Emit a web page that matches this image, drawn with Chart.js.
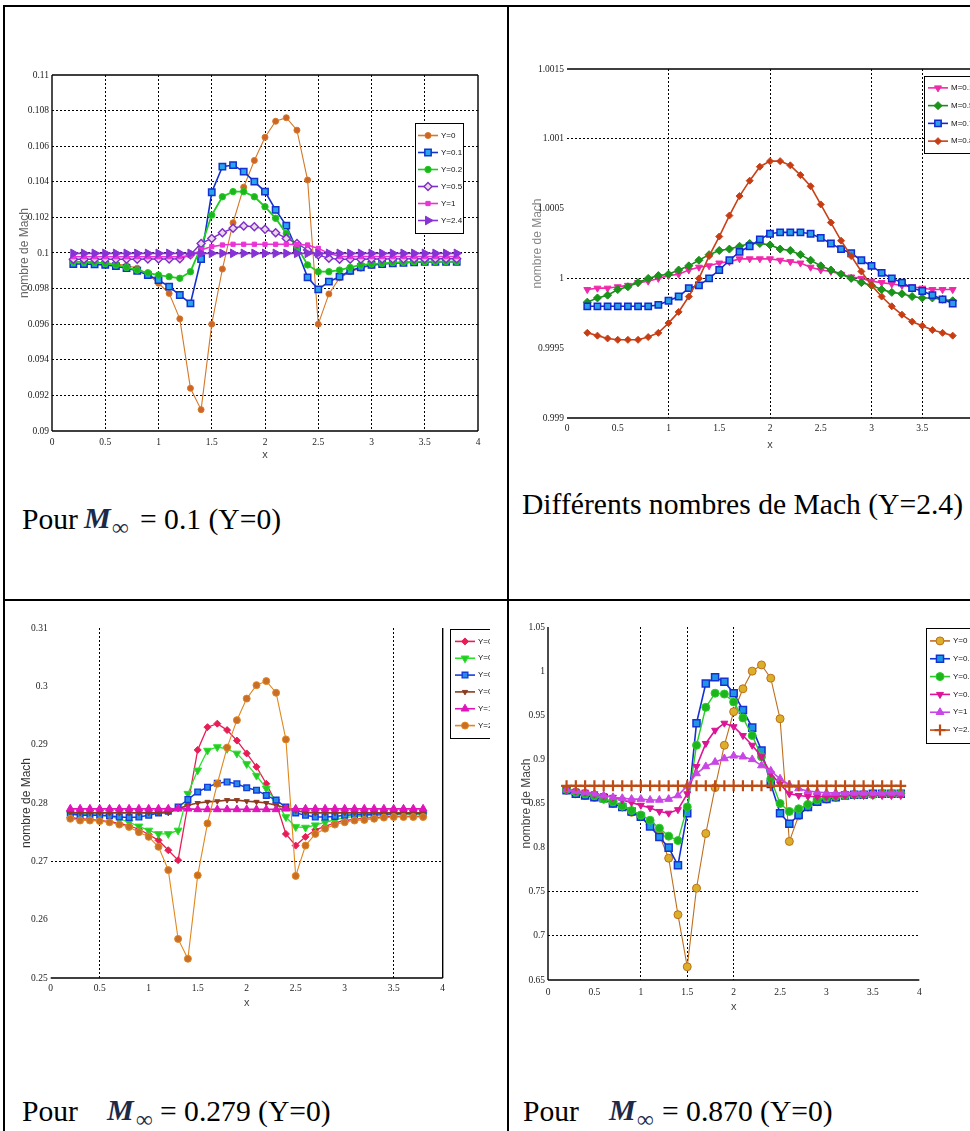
<!DOCTYPE html>
<html><head><meta charset="utf-8">
<script src="https://cdn.jsdelivr.net/npm/chart.js@4/dist/chart.umd.min.js"></script>
<style>
html,body{margin:0;padding:0;background:#fff;}
body{width:970px;height:1131px;overflow:hidden;position:relative;font-family:'Liberation Serif','Times New Roman',serif;}
.ln{position:absolute;background:#000;}
canvas{position:absolute;}
.t{position:absolute;font-size:29.6px;line-height:29px;white-space:nowrap;color:#000;}
.M{position:absolute;font-size:30px;line-height:30px;font-style:italic;font-weight:bold;color:#1c2a4a;}
.inf{position:absolute;font-size:23px;line-height:23px;font-weight:bold;color:#1c2a4a;}
</style></head>
<body>
<div class="ln" style="left:3px;top:5px;width:970px;height:2px"></div>
<div class="ln" style="left:3px;top:5px;width:2px;height:1130px"></div>
<div class="ln" style="left:507px;top:5px;width:2px;height:1130px"></div>
<div class="ln" style="left:3px;top:599px;width:970px;height:2px"></div>

<canvas id="c1" width="482" height="410" style="left:8px;top:60px"></canvas>
<canvas id="c2" width="475" height="420" style="left:510px;top:40px"></canvas>
<canvas id="c3" width="480" height="410" style="left:10px;top:610px"></canvas>
<canvas id="c4" width="460" height="410" style="left:515px;top:610px"></canvas>

<div class="t" style="left:22px;top:505px">Pour</div>
<div class="M" style="left:84px;top:503px">M</div>
<div class="inf" style="left:112px;top:516px">∞</div>
<div class="t" style="left:140px;top:505px">= 0.1 (Y=0)</div>

<div class="t" style="left:522px;top:490px">Différents nombres de Mach (Y=2.4)</div>

<div class="t" style="left:22px;top:1097px">Pour</div>
<div class="M" style="left:107px;top:1095px">M</div>
<div class="inf" style="left:136px;top:1108px">∞</div>
<div class="t" style="left:160px;top:1097px">= 0.279 (Y=0)</div>

<div class="t" style="left:523px;top:1097px">Pour</div>
<div class="M" style="left:609px;top:1095px">M</div>
<div class="inf" style="left:637px;top:1108px">∞</div>
<div class="t" style="left:662px;top:1097px">= 0.870 (Y=0)</div>

<script>
// ---------- shared x grid ----------
const X = [0.2,0.3,0.4,0.5,0.6,0.7,0.8,0.9,1.0,1.1,1.2,1.3,1.4,1.5,1.6,1.7,1.8,1.9,2.0,2.1,2.2,2.3,2.4,2.5,2.6,2.7,2.8,2.9,3.0,3.1,3.2,3.3,3.4,3.5,3.6,3.7,3.8];
const X_TICKS = [0,0.5,1,1.5,2,2.5,3,3.5,4];
const X_TICK_LABELS = ['0','0.5','1','1.5','2','2.5','3','3.5','4'];

// ---------- chart 1 : M = 0.1 (Y=0) ----------
const C1_LABELS = ['Y=0','Y=0.1','Y=0.2','Y=0.5','Y=1','Y=2.4'];
const C1_Y0  = [0.09950,0.09950,0.09948,0.09945,0.09940,0.09930,0.09915,0.09880,0.09830,0.09773,0.09630,0.09240,0.09120,0.09600,0.09910,0.10170,0.10370,0.10520,0.10650,0.10740,0.10760,0.10690,0.10410,0.09600,0.09770,0.09860,0.09895,0.09915,0.09930,0.09938,0.09942,0.09945,0.09948,0.09950,0.09950,0.09951,0.09951];
const C1_Y01 = [0.09938,0.09938,0.09936,0.09933,0.09926,0.09915,0.09900,0.09876,0.09848,0.09811,0.09764,0.09717,0.09966,0.10341,0.10485,0.10494,0.10457,0.10401,0.10345,0.10242,0.10154,0.10017,0.09863,0.09796,0.09839,0.09867,0.09900,0.09920,0.09933,0.09938,0.09942,0.09945,0.09948,0.09950,0.09951,0.09951,0.09951];
const C1_Y02 = [0.09951,0.09950,0.09948,0.09942,0.09933,0.09919,0.09904,0.09889,0.09876,0.09867,0.09858,0.09895,0.10036,0.10213,0.10316,0.10345,0.10345,0.10316,0.10260,0.10195,0.10110,0.10036,0.09933,0.09895,0.09895,0.09904,0.09919,0.09933,0.09938,0.09942,0.09946,0.09948,0.09950,0.09951,0.09952,0.09952,0.09952];
const C1_Y05 = [0.09965,0.09965,0.09965,0.09965,0.09965,0.09965,0.09965,0.09966,0.09966,0.09966,0.09968,0.09990,0.10054,0.10082,0.10114,0.10139,0.10152,0.10148,0.10133,0.10114,0.10082,0.10054,0.10017,0.09989,0.09970,0.09965,0.09965,0.09965,0.09966,0.09966,0.09967,0.09967,0.09968,0.09968,0.09968,0.09968,0.09968];
const C1_Y1  = [0.09979,0.09979,0.09979,0.09979,0.09979,0.09979,0.09979,0.09979,0.09979,0.09979,0.09979,0.09985,0.10017,0.10036,0.10045,0.10049,0.10049,0.10049,0.10049,0.10049,0.10049,0.10047,0.10045,0.10026,0.09998,0.09980,0.09980,0.09980,0.09980,0.09980,0.09980,0.09980,0.09980,0.09980,0.09980,0.09980,0.09980];
const C1_Y24 = [0.09998,0.09998,0.09998,0.09998,0.09998,0.09998,0.09998,0.09998,0.09998,0.09998,0.09998,0.09998,0.09998,0.09998,0.09998,0.09998,0.09998,0.09998,0.09998,0.09998,0.09998,0.09998,0.09998,0.09998,0.09998,0.09998,0.09998,0.09998,0.09998,0.09998,0.09998,0.09998,0.09998,0.09998,0.09998,0.09998,0.09998];
const C1_Y_TICKS = [0.09,0.092,0.094,0.096,0.098,0.1,0.102,0.104,0.106,0.108,0.11];
const C1_Y_TICK_LABELS = ['0.09','0.092','0.094','0.096','0.098','0.1','0.102','0.104','0.106','0.108','0.11'];

// ---------- chart 2 : different Mach numbers (Y=2.4) ----------
const C2_LABELS = ['M=0.1','M=0.5','M=0.7','M=0.8'];
const C2_M01 = [0.99992,0.99993,0.99993,0.99994,0.99995,0.99997,0.99998,1.00000,1.00002,1.00003,1.00006,1.00008,1.00009,1.00011,1.00012,1.00014,1.00014,1.00014,1.00014,1.00013,1.00012,1.00011,1.00008,1.00006,1.00005,1.00003,1.00001,1.00000,0.99998,0.99997,0.99996,0.99995,0.99994,0.99993,0.99992,0.99992,0.99992];
const C2_M05 = [0.99983,0.99986,0.99988,0.99992,0.99994,0.99997,1.00000,1.00002,1.00003,1.00006,1.00009,1.00013,1.00017,1.00020,1.00021,1.00023,1.00025,1.00025,1.00024,1.00021,1.00020,1.00017,1.00013,1.00009,1.00006,1.00003,1.00000,0.99997,0.99995,0.99992,0.99990,0.99989,0.99987,0.99986,0.99986,0.99985,0.99984];
const C2_M07 = [0.99980,0.99980,0.99980,0.99980,0.99980,0.99980,0.99980,0.99981,0.99984,0.99987,0.99993,0.99995,1.00000,1.00006,1.00013,1.00019,1.00023,1.00028,1.00032,1.00033,1.00033,1.00033,1.00032,1.00029,1.00025,1.00021,1.00018,1.00013,1.00009,1.00004,1.00000,0.99997,0.99993,0.99991,0.99988,0.99985,0.99982];
const C2_M08 = [0.99961,0.99959,0.99957,0.99956,0.99956,0.99956,0.99958,0.99961,0.99968,0.99976,0.99987,1.00000,1.00016,1.00030,1.00045,1.00059,1.00070,1.00080,1.00084,1.00084,1.00081,1.00074,1.00066,1.00053,1.00040,1.00027,1.00016,1.00005,0.99995,0.99987,0.99980,0.99974,0.99969,0.99966,0.99963,0.99961,0.99959];
const C2_Y_TICKS = [0.999,0.9995,1,1.0005,1.001,1.0015];
const C2_Y_TICK_LABELS = ['0.999','0.9995','1','1.0005','1.001','1.0015'];

// ---------- chart 3 : M = 0.279 (Y=0) ----------
const C3_LABELS = ['Y=0','Y=0.1','Y=0.2','Y=0.5','Y=1','Y=2.4'];
const C3_A = [0.2775,0.2773,0.2772,0.2770,0.2768,0.2765,0.2761,0.2755,0.2746,0.2736,0.2719,0.2702,0.2797,0.2891,0.2930,0.2936,0.2925,0.2907,0.2885,0.2862,0.2833,0.2800,0.2747,0.2727,0.2742,0.2754,0.2760,0.2766,0.2770,0.2772,0.2774,0.2775,0.2776,0.2777,0.2777,0.2777,0.2777];
const C3_B = [0.2782,0.2781,0.2780,0.2779,0.2777,0.2773,0.2767,0.2760,0.2753,0.2747,0.2747,0.2753,0.2816,0.2856,0.2890,0.2896,0.2893,0.2885,0.2867,0.2847,0.2825,0.2802,0.2776,0.2759,0.2758,0.2762,0.2767,0.2771,0.2775,0.2777,0.2778,0.2779,0.2779,0.2780,0.2780,0.2780,0.2780];
const C3_C = [0.2781,0.2779,0.2779,0.2779,0.2778,0.2776,0.2775,0.2776,0.2779,0.2783,0.2786,0.2793,0.2806,0.2819,0.2827,0.2834,0.2836,0.2833,0.2826,0.2822,0.2813,0.2805,0.2793,0.2783,0.2779,0.2776,0.2776,0.2777,0.2779,0.2780,0.2780,0.2781,0.2781,0.2781,0.2782,0.2782,0.2782];
const C3_D = [0.2783,0.2783,0.2783,0.2783,0.2783,0.2783,0.2783,0.2783,0.2783,0.2783,0.2783,0.2790,0.2796,0.2800,0.2802,0.2803,0.2805,0.2805,0.2803,0.2802,0.2800,0.2796,0.2792,0.2787,0.2784,0.2783,0.2783,0.2783,0.2783,0.2783,0.2783,0.2783,0.2783,0.2783,0.2783,0.2783,0.2783];
const C3_E = [0.2790,0.2790,0.2790,0.2790,0.2790,0.2790,0.2790,0.2790,0.2790,0.2790,0.2790,0.2790,0.2790,0.2789,0.2789,0.2789,0.2789,0.2789,0.2789,0.2789,0.2789,0.2789,0.2790,0.2790,0.2790,0.2790,0.2790,0.2790,0.2790,0.2790,0.2790,0.2790,0.2790,0.2790,0.2790,0.2790,0.2790];
const C3_F = [0.2773,0.2770,0.2770,0.2769,0.2767,0.2763,0.2759,0.2750,0.2742,0.2725,0.2685,0.2567,0.2533,0.2676,0.2765,0.2833,0.2895,0.2942,0.2979,0.3002,0.3009,0.2989,0.2909,0.2675,0.2727,0.2747,0.2756,0.2763,0.2767,0.2770,0.2771,0.2773,0.2775,0.2776,0.2776,0.2776,0.2776];
const C3_Y_TICKS = [0.25,0.26,0.27,0.28,0.29,0.3,0.31];
const C3_Y_TICK_LABELS = ['0.25','0.26','0.27','0.28','0.29','0.3','0.31'];

// ---------- chart 4 : M = 0.870 (Y=0) ----------
const C4_LABELS = ['Y=0','Y=0.1','Y=0.2','Y=0.5','Y=1','Y=2.4'];
const C4_Y0  = [0.865,0.861,0.859,0.857,0.855,0.850,0.846,0.840,0.835,0.826,0.814,0.788,0.724,0.665,0.754,0.816,0.868,0.916,0.954,0.980,1.000,1.007,0.992,0.946,0.807,0.836,0.846,0.852,0.855,0.857,0.859,0.860,0.860,0.861,0.861,0.861,0.861];
const C4_Y01 = [0.865,0.861,0.859,0.857,0.856,0.850,0.846,0.841,0.835,0.824,0.812,0.800,0.780,0.839,0.941,0.986,0.993,0.988,0.975,0.956,0.936,0.910,0.872,0.839,0.827,0.837,0.846,0.852,0.855,0.857,0.859,0.860,0.860,0.861,0.861,0.861,0.861];
const C4_Y02 = [0.866,0.863,0.861,0.859,0.855,0.852,0.847,0.842,0.837,0.831,0.822,0.813,0.808,0.846,0.916,0.959,0.975,0.974,0.965,0.947,0.927,0.903,0.878,0.850,0.841,0.844,0.849,0.854,0.857,0.858,0.859,0.860,0.860,0.860,0.861,0.861,0.861];
const C4_Y05 = [0.866,0.864,0.863,0.861,0.859,0.857,0.854,0.851,0.848,0.845,0.841,0.839,0.843,0.861,0.892,0.918,0.933,0.941,0.937,0.927,0.916,0.903,0.884,0.872,0.861,0.859,0.858,0.858,0.858,0.858,0.859,0.859,0.859,0.859,0.859,0.859,0.859];
const C4_Y1  = [0.866,0.864,0.863,0.861,0.859,0.857,0.856,0.855,0.855,0.854,0.854,0.855,0.859,0.870,0.884,0.892,0.897,0.901,0.904,0.903,0.900,0.893,0.887,0.878,0.871,0.867,0.864,0.863,0.862,0.862,0.862,0.862,0.862,0.862,0.862,0.862,0.862];
const C4_Y24 = [0.870,0.870,0.870,0.870,0.870,0.870,0.870,0.870,0.870,0.870,0.870,0.870,0.870,0.870,0.870,0.870,0.870,0.870,0.870,0.870,0.870,0.870,0.870,0.870,0.870,0.870,0.870,0.870,0.870,0.870,0.870,0.870,0.870,0.870,0.870,0.870,0.870];
const C4_Y_TICKS = [0.65,0.7,0.75,0.8,0.85,0.9,0.95,1,1.05];
const C4_Y_TICK_LABELS = ['0.65','0.7','0.75','0.8','0.85','0.9','0.95','1','1.05'];

// ---------- helpers ----------
Chart.defaults.font.family = "'Liberation Serif', serif";
Chart.defaults.font.size = 9.5;
Chart.defaults.color = '#222';

function drawMarker(c, d, x, y) {
  c.save();
  c.fillStyle = d.pointBackgroundColor; c.strokeStyle = d.pointBorderColor; c.lineWidth = d.pointBorderWidth;
  if (Chart.helpers && Chart.helpers.drawPoint) {
    Chart.helpers.drawPoint(c, {pointStyle: d.pointStyle, rotation: d.pointRotation || 0, radius: d.pointRadius, borderWidth: d.pointBorderWidth}, x, y);
  } else {
    c.beginPath(); c.arc(x, y, d.pointRadius, 0, Math.PI * 2); c.fill(); c.stroke();
  }
  c.restore();
}

const framePlugin = {
  id: 'frame',
  beforeDatasetsDraw(chart, args, o) {
    const a = chart.chartArea, c = chart.ctx;
    c.save(); c.strokeStyle = '#000'; c.lineWidth = 1.4; c.beginPath();
    (o.sides || []).forEach(s => {
      if (s === 'top') { c.moveTo(a.left, a.top); c.lineTo(a.right, a.top); }
      if (s === 'bottom') { c.moveTo(a.left, a.bottom); c.lineTo(a.right, a.bottom); }
      if (s === 'left') { c.moveTo(a.left, a.top); c.lineTo(a.left, a.bottom); }
      if (s === 'right') { c.moveTo(a.right, a.top); c.lineTo(a.right, a.bottom); }
    });
    c.stroke(); c.restore();
  }
};

const boxLegend = {
  id: 'boxLegend',
  afterDraw(chart, args, o) {
    const c = chart.ctx;
    c.save();
    c.fillStyle = '#fff'; c.fillRect(o.x, o.y, o.w, o.h);
    c.strokeStyle = '#000'; c.lineWidth = 1; c.strokeRect(o.x + 0.5, o.y + 0.5, o.w, o.h);
    const ds = chart.data.datasets, rh = (o.h - 2 * o.pad) / ds.length;
    ds.forEach((d, i) => {
      const cy = o.y + o.pad + rh * (i + 0.5);
      c.strokeStyle = d.borderColor; c.lineWidth = 1.6;
      c.beginPath(); c.moveTo(o.x + o.s0, cy); c.lineTo(o.x + o.s1, cy); c.stroke();
      drawMarker(c, d, o.x + (o.s0 + o.s1) / 2, cy);
      c.fillStyle = '#111'; c.font = "8px 'Liberation Sans', sans-serif"; c.textBaseline = 'middle'; c.textAlign = 'left';
      c.fillText(d.label, o.x + o.tx, cy);
    });
    c.restore();
  }
};

function near(list, v) { return list.some(g => Math.abs(g - v) < 1e-9); }

function build(id, p) {
  const datasets = p.series.map((s, k) => ({
    label: s.label,
    order: -k,
    data: X.map((x, i) => ({x: x, y: s.values[i]})),
    borderColor: s.color, backgroundColor: s.fill || s.color,
    pointBackgroundColor: s.fill || s.color, pointBorderColor: s.color,
    pointStyle: s.marker, pointRotation: s.rot || 0, pointRadius: s.r || 3.5,
    pointBorderWidth: s.bw || 1, borderWidth: s.lw || 1.4, tension: 0, fill: false
  }));
  new Chart(document.getElementById(id), {
    type: 'line',
    data: {datasets: datasets},
    plugins: [framePlugin, boxLegend],
    options: {
      responsive: false, animation: false, events: [],
      layout: {padding: {left: 0, top: p.padTop, right: p.padRight, bottom: 0}},
      plugins: {
        legend: {display: false}, tooltip: {enabled: false},
        frame: {sides: p.sides},
        boxLegend: p.legend
      },
      scales: {
        x: {
          type: 'linear', min: 0, max: 4,
          afterBuildTicks: s => { s.ticks = X_TICKS.map(v => ({value: v})); },
          afterFit: s => { s.height = p.xH; },
          ticks: {callback: (v, i) => X_TICK_LABELS[i], padding: p.xTickPad, maxRotation: 0, autoSkip: false},
          grid: {color: ctx => (ctx.tick && near(p.xGrid, ctx.tick.value)) ? '#000' : 'rgba(0,0,0,0)', lineWidth: 1, drawTicks: false},
          border: {display: false, dash: [2, 2]},
          title: {display: true, text: 'x', font: {family: "'Liberation Sans', sans-serif", size: 11}, color: '#444', padding: {top: 0, bottom: p.xTitlePad}}
        },
        y: {
          type: 'linear', min: p.yTicks[0], max: p.yTicks[p.yTicks.length - 1],
          afterBuildTicks: s => { s.ticks = p.yTicks.map(v => ({value: v})); },
          afterFit: s => { s.width = p.yW; },
          ticks: {callback: (v, i) => p.yLabels[i], padding: 3, autoSkip: false},
          grid: {color: ctx => (ctx.tick && near(p.yGrid, ctx.tick.value)) ? '#000' : 'rgba(0,0,0,0)', lineWidth: 1, drawTicks: false},
          border: {display: false, dash: [2, 2]},
          title: {display: true, text: 'nombre de Mach', font: {family: "'Liberation Sans', sans-serif", size: 12}, color: p.yTitleColor, padding: {top: p.yTitlePad, bottom: 0}}
        }
      }
    }
  });
}

// chart 1
build('c1', {
  padTop: 15, padRight: 12, xH: 39, yW: 44, xTickPad: 5.6, xTitlePad: 8.4, yTitlePad: 9.8, yTitleColor: '#666',
  yTicks: C1_Y_TICKS, yLabels: C1_Y_TICK_LABELS,
  xGrid: [0.5, 1, 1.5, 2, 2.5, 3, 3.5], yGrid: [0.092, 0.094, 0.096, 0.098, 0.1, 0.102, 0.104, 0.106, 0.108],
  sides: ['top', 'bottom', 'left', 'right'],
  legend: {x: 407, y: 63, w: 48, h: 110, pad: 4, s0: 3, s1: 23, tx: 26},
  series: [
    {label: C1_LABELS[0], values: C1_Y0,  color: 'rgb(214,120,40)', fill: 'rgb(205,100,40)', marker: 'circle', r: 3, lw: 1.1},
    {label: C1_LABELS[1], values: C1_Y01, color: 'rgb(20,50,205)', fill: 'rgb(40,165,235)', marker: 'rect', r: 4.5, bw: 1.5, lw: 1.6},
    {label: C1_LABELS[2], values: C1_Y02, color: 'rgb(30,205,30)', fill: 'rgb(30,180,30)', marker: 'circle', r: 3.2, lw: 1.8},
    {label: C1_LABELS[3], values: C1_Y05, color: 'rgb(125,45,205)', fill: 'rgb(235,215,230)', marker: 'rectRot', r: 4, bw: 1.4, lw: 1.4},
    {label: C1_LABELS[4], values: C1_Y1,  color: 'rgb(235,50,215)', fill: 'rgb(235,50,215)', marker: 'rect', r: 3, lw: 1.6},
    {label: C1_LABELS[5], values: C1_Y24, color: 'rgb(135,50,215)', fill: 'rgb(135,50,215)', marker: 'triangle', rot: 90, r: 5, lw: 1.6}
  ]
});

// chart 2
build('c2', {
  padTop: 29, padRight: 12, xH: 42, yW: 57, xTickPad: 4.6, xTitlePad: 8.4, yTitlePad: 20.8, yTitleColor: '#888',
  yTicks: C2_Y_TICKS, yLabels: C2_Y_TICK_LABELS,
  xGrid: [1, 2, 3, 3.5], yGrid: [1, 1.001],
  sides: ['top', 'bottom'],
  legend: {x: 414, y: 36, w: 70, h: 77, pad: 3, s0: 4, s1: 24, tx: 27},
  series: [
    {label: C2_LABELS[0], values: C2_M01, color: 'rgb(240,40,170)', fill: 'rgb(240,40,170)', marker: 'triangle', rot: 180, r: 4, lw: 1.6},
    {label: C2_LABELS[1], values: C2_M05, color: 'rgb(25,140,25)', fill: 'rgb(25,150,25)', marker: 'rectRot', r: 4, lw: 1.6},
    {label: C2_LABELS[2], values: C2_M07, color: 'rgb(20,40,210)', fill: 'rgb(40,160,230)', marker: 'rect', r: 4.5, bw: 1.5, lw: 1.6},
    {label: C2_LABELS[3], values: C2_M08, color: 'rgb(200,65,25)', fill: 'rgb(200,60,20)', marker: 'rectRot', r: 3.5, lw: 1.6}
  ]
});

// chart 3
build('c3', {
  padTop: 18, padRight: 47.3, xH: 42, yW: 40.7, xTickPad: 4.6, xTitlePad: 10.4, yTitlePad: 9.8, yTitleColor: '#333',
  yTicks: C3_Y_TICKS, yLabels: C3_Y_TICK_LABELS,
  xGrid: [0.5, 3.5], yGrid: [0.27],
  sides: ['bottom', 'right'],
  legend: {x: 440, y: 19, w: 70, h: 109, pad: 4, s0: 5, s1: 25, tx: 28},
  series: [
    {label: C3_LABELS[0], values: C3_A, color: 'rgb(230,30,85)', fill: 'rgb(230,30,85)', marker: 'rectRot', r: 3.5, lw: 1.3},
    {label: C3_LABELS[1], values: C3_B, color: 'rgb(40,225,40)', fill: 'rgb(40,200,40)', marker: 'triangle', rot: 180, r: 4.5, lw: 1.3},
    {label: C3_LABELS[2], values: C3_C, color: 'rgb(20,60,220)', fill: 'rgb(40,140,230)', marker: 'rect', r: 4, bw: 1.4, lw: 1.5},
    {label: C3_LABELS[3], values: C3_D, color: 'rgb(140,60,30)', fill: 'rgb(140,60,30)', marker: 'triangle', rot: 180, r: 3, lw: 1.6},
    {label: C3_LABELS[4], values: C3_E, color: 'rgb(225,20,185)', fill: 'rgb(225,20,185)', marker: 'triangle', r: 4.5, lw: 1.8},
    {label: C3_LABELS[5], values: C3_F, color: 'rgb(225,135,30)', fill: 'rgb(200,110,40)', marker: 'circle', r: 3.5, lw: 1.1}
  ]
});

// chart 4
build('c4', {
  padTop: 17, padRight: 55.7, xH: 40, yW: 33, xTickPad: 6.6, xTitlePad: 6.4, yTitlePad: 4.8, yTitleColor: '#444',
  yTicks: C4_Y_TICKS, yLabels: C4_Y_TICK_LABELS,
  xGrid: [1, 1.5, 2], yGrid: [0.7, 0.75],
  sides: ['left', 'bottom'],
  legend: {x: 411, y: 18, w: 70, h: 115, pad: 4, s0: 4, s1: 24, tx: 27},
  series: [
    {label: C4_LABELS[0], values: C4_Y0,  color: 'rgb(190,110,30)', fill: 'rgb(220,175,40)', marker: 'circle', r: 4, lw: 1.1},
    {label: C4_LABELS[1], values: C4_Y01, color: 'rgb(20,50,210)', fill: 'rgb(30,150,230)', marker: 'rect', r: 5, bw: 1.5, lw: 1.6},
    {label: C4_LABELS[2], values: C4_Y02, color: 'rgb(40,205,40)', fill: 'rgb(30,180,30)', marker: 'circle', r: 4, lw: 1.4},
    {label: C4_LABELS[3], values: C4_Y05, color: 'rgb(220,20,150)', fill: 'rgb(220,20,150)', marker: 'triangle', rot: 180, r: 4, lw: 1.6},
    {label: C4_LABELS[4], values: C4_Y1,  color: 'rgb(200,70,230)', fill: 'rgb(200,70,230)', marker: 'triangle', r: 4.5, lw: 1.6},
    {label: C4_LABELS[5], values: C4_Y24, color: 'rgb(190,75,20)', fill: 'rgb(190,75,20)', marker: 'cross', r: 5.5, bw: 2.2, lw: 2}
  ]
});
</script>
</body></html>
